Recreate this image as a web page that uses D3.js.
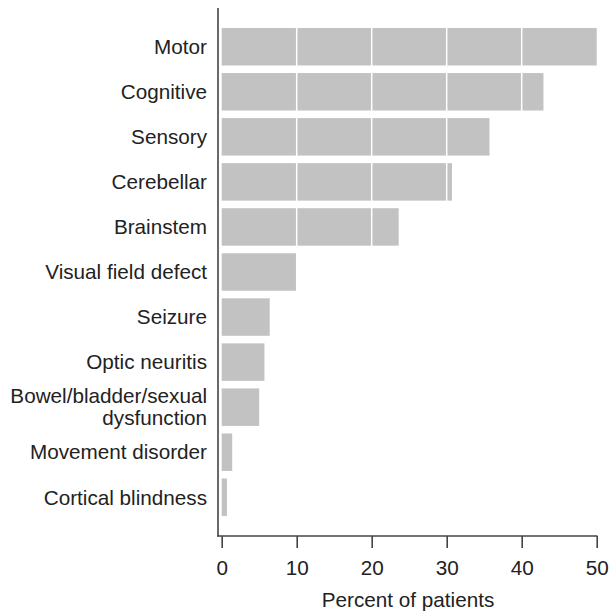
<!DOCTYPE html>
<html><head><meta charset="utf-8">
<script src="https://cdn.jsdelivr.net/npm/d3@7/dist/d3.min.js"></script>
<style>body{margin:0;background:#fff}svg{display:block;font-family:"Liberation Sans",Arial,Helvetica,sans-serif}</style>
</head><body><svg id="c" width="611" height="613"></svg>
<script>
const categories = ["Motor","Cognitive","Sensory","Cerebellar","Brainstem","Visual field defect","Seizure","Optic neuritis","Bowel/bladder/sexual\ndysfunction","Movement disorder","Cortical blindness"];
const values = [50, 42.9, 35.7, 30.7, 23.6, 10.0, 6.4, 5.7, 5.0, 1.4, 0.7];
const xTicks = [0,10,20,30,40,50];
const gridValues = [10,20,30,40];
const xTitle = "Percent of patients";
const FS = 20.7;

const svg = d3.select("#c");
const x = d3.scaleLinear().domain([0,50]).range([221.7,596.7]);
const y = d3.scaleBand().domain(categories).range([24.2,519.8]).paddingInner(0.168).paddingOuter(0.084);
const data = categories.map((c,i)=>({c, v: values[i]}));

svg.append("g").selectAll("rect").data(data).join("rect")
  .attr("x", x(0)).attr("y", d=>y(d.c))
  .attr("width", d=>x(d.v)-x(0)).attr("height", y.bandwidth())
  .attr("fill","#c2c2c2");

svg.append("g").selectAll("line").data(gridValues).join("line")
  .attr("x1", d=>x(d)).attr("x2", d=>x(d))
  .attr("y1", 20).attr("y2", 525)
  .attr("stroke","#fff").attr("stroke-width",1.5);

// y axis line
svg.append("line").attr("x1",218).attr("x2",218).attr("y1",8).attr("y2",536.5)
  .attr("stroke","#444").attr("stroke-width",1.6);

// x axis
const xAxis = d3.axisBottom(x).tickValues(xTicks).tickSize(12).tickPadding(12).tickSizeOuter(0);
const gx = svg.append("g").attr("transform","translate(0,536)").call(xAxis);
gx.select(".domain").attr("d", `M217.2,0H597.5`).attr("stroke","#444").attr("stroke-width",1.6);
gx.selectAll(".tick line").attr("stroke","#444").attr("stroke-width",1.6);
gx.selectAll(".tick text").attr("font-size",FS).attr("fill","#222").attr("font-family","Liberation Sans, Arial, sans-serif");

// y labels
const lbl = svg.append("g").selectAll("text").data(categories).join("text")
  .attr("text-anchor","end").attr("font-size",FS).attr("fill","#222")
  .attr("x",207);
lbl.each(function(d){
  const lines = d.split("\n");
  const cy = y(d) + y.bandwidth()/2;
  const t = d3.select(this);
  lines.forEach((ln,i)=>{
    const off = (i - (lines.length-1)/2) * 22;
    t.append("tspan").attr("x",207).attr("y", cy + off).attr("dy","0.35em").text(ln);
  });
});

svg.append("text").attr("x",408).attr("y",607).attr("text-anchor","middle")
  .attr("font-size",FS).attr("fill","#222").text(xTitle);
</script></body></html>
